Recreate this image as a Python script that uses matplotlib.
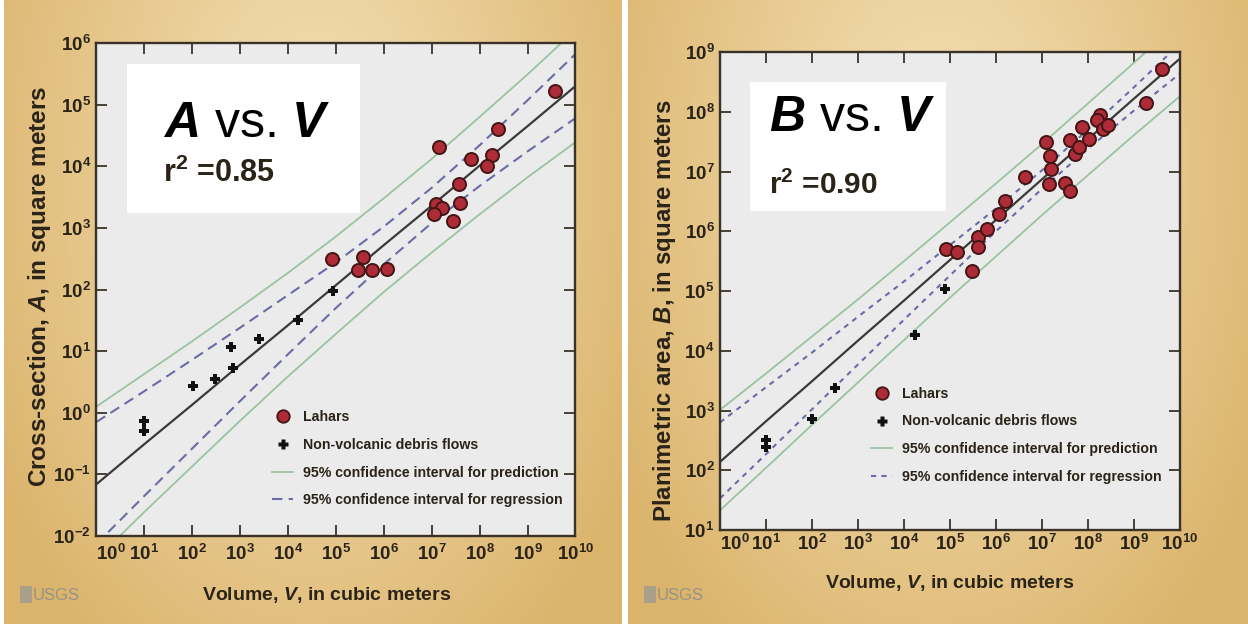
import numpy as np
import matplotlib
matplotlib.use("Agg")
import matplotlib.pyplot as plt
from matplotlib.lines import Line2D
from matplotlib.patches import Rectangle
from matplotlib.ticker import FixedLocator, NullLocator, FuncFormatter
from matplotlib import font_manager as fm

# ---------------- data (log10 values) ----------------
# Panel 1: cross-section A vs volume V
lahar_A_logV = [4.91, 5.57, 5.47, 5.76, 6.07, 7.15, 7.83, 8.39, 8.25, 8.15, 7.58, 7.59, 7.10, 7.21, 7.05, 7.45, 9.57]
lahar_A_logA = [2.49, 2.53, 2.32, 2.31, 2.34, 4.31, 4.12, 4.61, 4.19, 4.01, 3.72, 3.40, 3.38, 3.33, 3.23, 3.11, 5.22]
debris_A_logV = [1.00, 1.00, 2.02, 2.48, 2.80, 2.85, 3.40, 4.21, 4.93]
debris_A_logA = [-0.14, -0.30, 0.44, 0.55, 1.06, 0.72, 1.19, 1.50, 1.98]

line_logV = [0, 1, 2, 3, 4, 5, 6, 7, 8, 9, 10]
A_fit      = [-1.16, -0.51, 0.13, 0.78, 1.42, 2.07, 2.72, 3.36, 4.01, 4.65, 5.30]
A_reg_hi   = [-0.15, 0.35, 0.86, 1.38, 1.91, 2.44, 3.02, 3.65, 4.34, 5.07, 5.82]
A_reg_lo   = [-2.13, -1.35, -0.58, 0.19, 0.95, 1.70, 2.41, 3.08, 3.68, 4.24, 4.78]
A_pred_hi  = [0.10, 0.63, 1.16, 1.71, 2.27, 2.86, 3.48, 4.12, 4.80, 5.49, 6.21]
A_pred_lo  = [-2.37, -1.61, -0.87, -0.13, 0.59, 1.28, 1.96, 2.60, 3.22, 3.82, 4.39]

# Panel 2: planimetric area B vs volume V
lahar_B_logV = [4.91, 5.16, 5.47, 5.60, 5.60, 5.81, 6.07, 6.20, 6.62, 7.09, 7.17, 7.19, 7.16,
                7.50, 7.61, 7.61, 7.72, 7.81, 8.03, 7.88, 8.25, 8.19, 8.33, 8.44, 9.26, 9.60]
lahar_B_logB = [5.70, 5.65, 5.34, 5.91, 5.73, 6.03, 6.29, 6.51, 6.91, 7.50, 7.26, 7.05, 6.79,
                6.80, 6.68, 7.53, 7.30, 7.41, 7.54, 7.74, 7.94, 7.86, 7.71, 7.78, 8.14, 8.71]
debris_B_logV = [1.01, 1.01, 2.01, 2.50, 4.24, 4.89]
debris_B_logB = [2.51, 2.39, 2.85, 3.37, 4.26, 5.04]

B_fit      = [2.14, 2.82, 3.49, 4.17, 4.84, 5.52, 6.19, 6.87, 7.54, 8.22, 8.89]
B_reg_hi   = [2.80, 3.39, 3.97, 4.57, 5.16, 5.77, 6.38, 7.02, 7.70, 8.41, 9.14]
B_reg_lo   = [1.53, 2.27, 3.02, 3.77, 4.52, 5.26, 6.00, 6.71, 7.38, 8.02, 8.64]
B_pred_hi  = [3.01, 3.62, 4.24, 4.86, 5.50, 6.15, 6.80, 7.46, 8.14, 8.82, 9.52]
B_pred_lo  = [1.33, 2.04, 2.76, 3.47, 4.18, 4.89, 5.58, 6.27, 6.94, 7.61, 8.26]

x_tick_exp = list(range(0, 11))
A_tick_exp = list(range(-2, 7))
B_tick_exp = list(range(1, 10))

legend_labels = ["Lahars", "Non-volcanic debris flows",
                 "95% confidence interval for prediction",
                 "95% confidence interval for regression"]

# ---------------- styling ----------------
SANS = "Liberation Sans"

plt.rcParams.update({
    "font.family": [SANS, "DejaVu Sans"],
    "mathtext.fontset": "custom",
    "mathtext.rm": SANS,
    "mathtext.it": SANS + ":italic",
    "mathtext.bf": SANS + ":bold",
    "mathtext.bfit": SANS + ":italic:bold",
    "mathtext.sf": SANS,
})

TXT = "#2a2318"
FRAME = "#3a3228"
LAHAR_FC = "#ad2c37"
LAHAR_EC = "#431515"
PRED_C = "#9cc2a2"
REG_C = "#6a6ca6"
FIT_C = "#3a3a3a"

W, H = 1248, 624
fig = plt.figure(figsize=(W / 100, H / 100), dpi=100)

# background: tan gradient panels separated by white strips
bg = fig.add_axes([0, 0, 1, 1], zorder=-10)
bg.axis("off")
img = np.ones((H, W, 3))
yy, xx = np.mgrid[0:H, 0:W]
light = np.array([243, 222, 178]) / 255.0
dark = np.array([219, 180, 108]) / 255.0
for x0, x1 in [(4, 622), (628, 1248)]:
    cx = (x0 + x1) / 2.0
    sub = (xx >= x0) & (xx < x1)
    t = np.sqrt(((xx - cx) / (0.60 * (x1 - x0))) ** 2 + ((yy - 0.28 * H) / (0.95 * H)) ** 2)
    t = np.clip(t, 0, 1) ** 1.2
    for c in range(3):
        ch = light[c] * (1 - t) + dark[c] * t
        img[..., c] = np.where(sub, ch, img[..., c])
bg.imshow(img, extent=[0, 1, 0, 1], aspect="auto", interpolation="bilinear")
bg.set_xlim(0, 1)
bg.set_ylim(0, 1)


def px_rect(l, t, r, b):
    return [l / W, 1 - b / H, (r - l) / W, (b - t) / H]


def tick_fmt(v, pos):
    e = int(round(np.log10(v)))
    return r"$\mathbf{10^{%d}}$" % e


def setup_axes(ax, yexp):
    ax.set_xscale("log")
    ax.set_yscale("log")
    ax.set_xlim(10.0 ** x_tick_exp[0], 10.0 ** x_tick_exp[-1])
    ax.set_ylim(10.0 ** yexp[0], 10.0 ** yexp[-1])
    ax.set_facecolor("#ebebeb")
    ax.xaxis.set_major_locator(FixedLocator([10.0 ** e for e in x_tick_exp]))
    ax.yaxis.set_major_locator(FixedLocator([10.0 ** e for e in yexp]))
    ax.xaxis.set_minor_locator(NullLocator())
    ax.yaxis.set_minor_locator(NullLocator())
    ax.xaxis.set_major_formatter(FuncFormatter(tick_fmt))
    ax.yaxis.set_major_formatter(FuncFormatter(tick_fmt))
    ax.tick_params(direction="in", length=8, width=1.3, color=FRAME, top=True, right=True,
                   labelsize=13.5, labelcolor=TXT)
    ax.tick_params(axis="y", pad=4)
    for s in ax.spines.values():
        s.set_color(FRAME)
        s.set_linewidth(1.7)
    # the first x label sits just right of the corner, as in the original
    first = ax.xaxis.get_major_ticks()[0]
    first.label1.set_horizontalalignment("left")
    first.label1.set_x(0)


def draw_panel(ax, lv, ly, dv, dy, fit, rhi, rlo, phi, plo, dash):
    V = 10.0 ** np.array(line_logV)
    ax.plot(V, 10.0 ** np.array(phi), color=PRED_C, lw=1.3, zorder=2)
    ax.plot(V, 10.0 ** np.array(plo), color=PRED_C, lw=1.3, zorder=2)
    ax.plot(V, 10.0 ** np.array(rhi), color=REG_C, lw=1.5, dashes=dash, zorder=2)
    ax.plot(V, 10.0 ** np.array(rlo), color=REG_C, lw=1.5, dashes=dash, zorder=2)
    ax.plot(V, 10.0 ** np.array(fit), color=FIT_C, lw=1.6, zorder=3)
    ax.scatter(10.0 ** np.array(dv), 10.0 ** np.array(dy), marker="P", s=42,
               c="#111111", linewidths=0, zorder=5)
    ax.scatter(10.0 ** np.array(lv), 10.0 ** np.array(ly), s=88, c=LAHAR_FC,
               edgecolors=LAHAR_EC, linewidths=1.4, zorder=6)


def add_legend(ax, anchor, dash):
    handles = [
        Line2D([], [], ls="none", marker="o", ms=9, mfc=LAHAR_FC, mec=LAHAR_EC, mew=1.3),
        Line2D([], [], ls="none", marker="P", ms=7, mfc="#111111", mec="none"),
        Line2D([], [], color=PRED_C, lw=1.3),
        Line2D([], [], color=REG_C, lw=1.5, dashes=dash),
    ]
    leg = ax.legend(handles, legend_labels, loc="upper left", bbox_to_anchor=anchor,
                    frameon=False, handlelength=1.5, handletextpad=0.7,
                    labelspacing=0.98, borderpad=0, borderaxespad=0,
                    prop=fm.FontProperties(family=SANS, weight="bold", size=10.2))
    for t in leg.get_texts():
        t.set_color(TXT)


# ---------------- panel A ----------------
axA = fig.add_axes(px_rect(96.4, 43, 575.4, 536))
setup_axes(axA, A_tick_exp)
axA.tick_params(axis="x", pad=6)
draw_panel(axA, lahar_A_logV, lahar_A_logA, debris_A_logV, debris_A_logA,
           A_fit, A_reg_hi, A_reg_lo, A_pred_hi, A_pred_lo, (5, 3))
axA.add_patch(Rectangle((0.063, 0.655), 0.487, 0.303, transform=axA.transAxes,
                        facecolor="white", edgecolor="none", zorder=4))
axA.text(0.139, 0.809, r"$\mathbfit{A}$ vs. $\mathbfit{V}$", transform=axA.transAxes,
         fontsize=36, color="black", va="baseline", ha="left", zorder=7)
axA.text(0.139, 0.718, r"r$^{\mathbf{2}}$ =0.85", transform=axA.transAxes,
         fontsize=22, fontweight="bold", color=TXT, va="baseline", ha="left", zorder=7)
add_legend(axA, (0.367, 0.256), (5, 3))

# ---------------- panel B ----------------
axB = fig.add_axes(px_rect(720, 52, 1180, 530))
setup_axes(axB, B_tick_exp)
axB.tick_params(axis="x", pad=3)
draw_panel(axB, lahar_B_logV, lahar_B_logB, debris_B_logV, debris_B_logB,
           B_fit, B_reg_hi, B_reg_lo, B_pred_hi, B_pred_lo, (2.5, 2.5))
axB.add_patch(Rectangle((0.066, 0.667), 0.425, 0.271, transform=axB.transAxes,
                        facecolor="white", edgecolor="none", zorder=4))
axB.text(0.1065, 0.835, r"$\mathbfit{B}$ vs. $\mathbfit{V}$", transform=axB.transAxes,
         fontsize=36, color="black", va="baseline", ha="left", zorder=7)
axB.text(0.1065, 0.703, r"r$^{\mathbf{2}}$ =0.90", transform=axB.transAxes,
         fontsize=21.5, fontweight="bold", color=TXT, va="baseline", ha="left", zorder=7)
add_legend(axB, (0.328, 0.300), (2.5, 2.5))

# ---------------- axis titles ----------------
fig.text(327 / W, 1 - 595 / H, r"Volume, $\mathbfit{V}$, in cubic meters", ha="center", va="center",
         fontsize=14, fontweight="bold", color=TXT)
fig.text(950 / W, 1 - 583 / H, r"Volume, $\mathbfit{V}$, in cubic meters", ha="center", va="center",
         fontsize=14, fontweight="bold", color=TXT)
fig.text(40 / W, 1 - 286 / H, r"Cross-section, $\mathbfit{A}$, in square meters", ha="center",
         va="center", rotation=90, fontsize=17.5, fontweight="bold", color=TXT)
fig.text(664 / W, 1 - 311 / H, r"Planimetric area, $\mathbfit{B}$, in square meters", ha="center",
         va="center", rotation=90, fontsize=17.3, fontweight="bold", color=TXT)

# ---------------- USGS marks ----------------
for x0 in (20, 644):
    fig.patches.append(Rectangle((x0 / W, 1 - 603 / H), 12 / W, 17 / H, transform=fig.transFigure,
                                 facecolor="#9a9a92", edgecolor="none", alpha=0.8))
    fig.text((x0 + 13) / W, 1 - 595 / H, "USGS", ha="left", va="center", fontsize=12,
             color="#8f8f88", alpha=0.9)

fig.savefig("out.png", dpi=100)
